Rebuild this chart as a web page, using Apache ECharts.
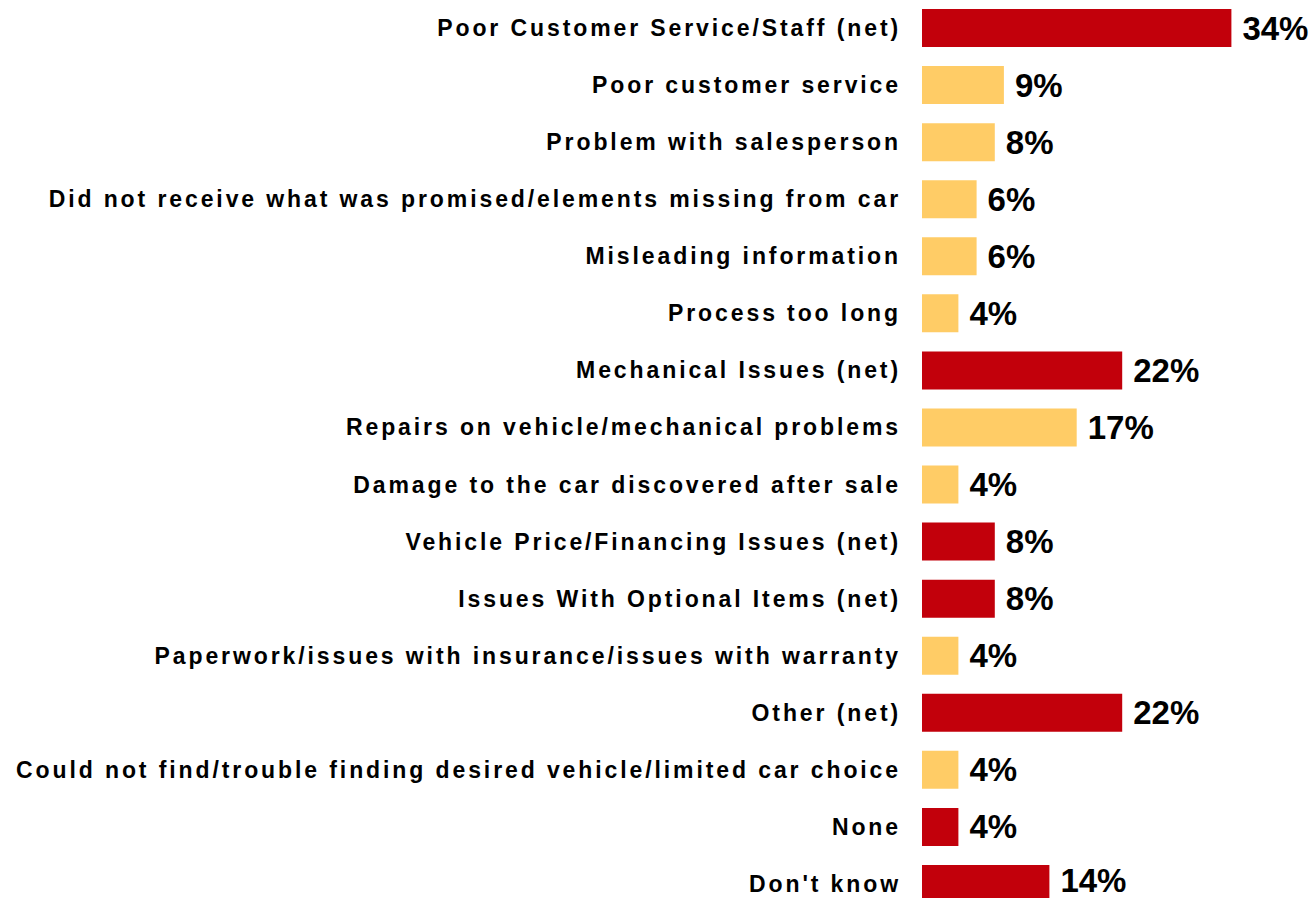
<!DOCTYPE html>
<html lang="en">
<head>
    <meta charset="UTF-8">
    <title>Reasons for dissatisfaction</title>
    <script src="https://cdn.jsdelivr.net/npm/echarts@6/dist/echarts.min.js"></script>
    <style>
        html, body { margin: 0; padding: 0; background: #fff; }
        /* category labels are drawn with wide tracking in the original */
        #main text[style*="23px"] { letter-spacing: 2.9px; }
    </style>
</head>
<body>
<div id="main" style="width: 1313px;height:898px;"></div>
<script type="text/javascript">
    // categories, top to bottom
    var categories = [
        'Poor Customer Service/Staff (net)',
        'Poor customer service',
        'Problem with salesperson',
        'Did not receive what was promised/elements missing from car',
        'Misleading information',
        'Process too long',
        'Mechanical Issues (net)',
        'Repairs on vehicle/mechanical problems',
        'Damage to the car discovered after sale',
        'Vehicle Price/Financing Issues (net)',
        'Issues With Optional Items (net)',
        'Paperwork/issues with insurance/issues with warranty',
        'Other (net)',
        'Could not find/trouble finding desired vehicle/limited car choice',
        'None',
        "Don't know"
    ];
    // percent values
    var values = [34, 9, 8, 6, 6, 4, 22, 17, 4, 8, 8, 4, 22, 4, 4, 14];
    // true = net / summary row (red), false = sub item (yellow)
    var isNet = [true, false, false, false, false, false, true, false, false, true, true, false, true, false, true, true];

    var RED = '#C2000B';
    var YELLOW = '#FFCC66';

    var barData = [];
    for (var i = 0; i < values.length; i++) {
        var item = {
            value: values[i],
            itemStyle: {color: isNet[i] ? RED : YELLOW}
        };
        // last row sits at the bottom edge, lift its label a little
        if (i === values.length - 1) {
            item.label = {offset: [0, -3]};
        }
        barData.push(item);
    }

    var myChart = echarts.init(document.getElementById('main'), null, {renderer: 'svg'});
    var option = {
        backgroundColor: '#fff',
        animation: false,
        grid: {
            left: 922,
            top: -0.5,
            width: 364,
            height: 913,
            outerBoundsMode: 'none'
        },
        xAxis: {
            type: 'value',
            min: 0,
            max: 40,
            show: false
        },
        yAxis: {
            type: 'category',
            inverse: true,
            data: categories,
            axisLine: {show: false},
            axisTick: {show: false},
            splitLine: {show: false},
            axisLabel: {
                margin: 21,
                color: '#000',
                fontFamily: 'Liberation Sans',
                fontWeight: 'bold',
                fontSize: 23
            }
        },
        series: [
            {
                type: 'bar',
                data: barData,
                barWidth: 38,
                label: {
                    show: true,
                    position: 'right',
                    distance: 11,
                    formatter: '{c}%',
                    color: '#000',
                    fontFamily: 'Liberation Sans',
                    fontWeight: 'bold',
                    fontSize: 33
                }
            }
        ]
    };
    myChart.setOption(option);
</script>
</body>
</html>
